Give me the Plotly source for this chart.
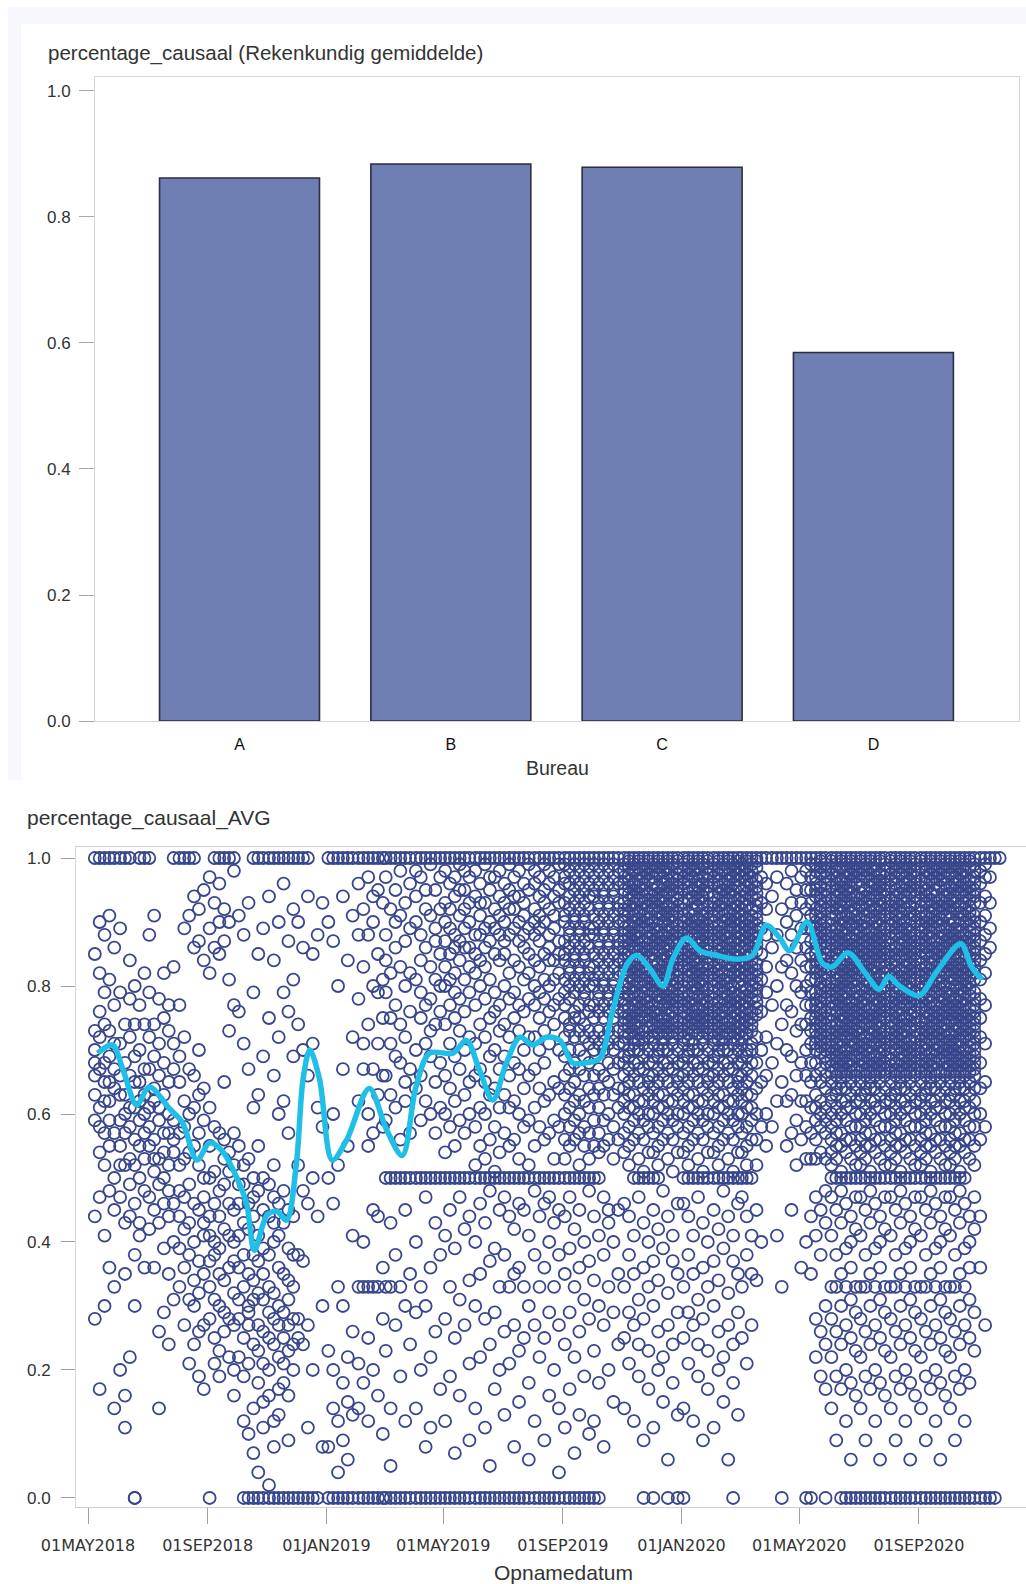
import plotly.graph_objects as go

# ---- Bar chart: mean percentage_causaal per bureau ----
bureaus = ["A", "B", "C", "D"]
bureau_means = [0.862, 0.884, 0.879, 0.585]

# ---- Scatter: percentage_causaal_AVG per record over Opnamedatum ----
# Each string holds the values (in %) of the records in one ~5-day column;
# six columns per month, on days 3, 8, 13, 18, 23 and 28.
COL_DAYS = [3, 8, 13, 18, 23, 28]

cols_2018 = [  # May .. Dec 2018
    # May
    "", "100 70 59 85 73 66 28 44 63 68", "100 76 54 82 61 47 17 90 67 58 72", "100 68 88 52 74 41 30 79 57 65 62",
    "100 62 91 73 48 55 36 81 69 65 59", "100 77 57 45 86 64 33 50 71 14 67",
    # Jun
    "100 59 71 47 89 66 52 20 79 55 63", "100 74 60 43 68 35 16 52 11 63 57", "100 84 53 78 66 44 61 22 49 72 58",
    "0 0 69 56 46 80 38 61 30 74 52 65", "100 65 50 77 43 59 70 41 55 62", "100 82 57 36 67 48 63 74 53 60",
    # Jul
    "100 61 79 47 88 55 67 42 72 58", "91 56 45 74 64 36 51 69 53 62", "66 78 49 26 59 71 43 14 53 61",
    "82 57 46 68 39 63 75 50 29 54", "73 44 60 35 52 77 24 48 65 57", "100 83 54 67 40 31 59 46 71 56",
    # Aug
    "100 65 44 77 52 33 69 39 57 48", "100 89 58 42 72 27 47 36 62 53", "100 91 54 38 67 43 21 60 49 31",
    "100 94 86 61 40 55 30 66 34 24 46", "92 52 37 63 87 26 45 57 32 19 70", "95 59 41 84 47 64 27 50 35 17 43",
    # Sep
    "0 97 50 37 82 61 28 44 89 55 33 41", "100 93 46 58 38 86 25 51 31 21 40", "100 85 48 30 96 57 23 44 35 90 19 39",
    "100 92 53 34 65 42 26 87 49 29 56", "100 81 41 90 28 54 36 73 46 22 51", "100 98 45 32 77 52 20 40 57 27 16 37",
    # Oct
    "41 91 28 49 36 76 46 22 55 31", "0 88 43 33 52 19 71 38 25 12 49", "0 35 93 27 46 30 67 53 21 42 10 29",
    "0 100 44 31 79 14 50 38 61 24 47 7 34", "0 100 37 85 23 48 32 63 18 55 41 27 4", "0 100 45 26 89 35 69 21 50 39 15 31 11",
    # Nov
    "0 100 33 94 20 44 75 29 16 38 49 25 2", "0 100 40 84 24 47 12 66 32 52 43 28 8", "0 100 36 22 90 30 60 46 17 41 72 27 13",
    "0 100 29 96 43 21 62 35 18 79 48 25", "0 100 34 87 23 45 57 31 76 39 16 27 9", "0 100 28 81 38 44 92 24 69 33 20",
    # Dec
    "0 100 28 90 38 74 52 25", "0 100 86 37 70 24 48", "0 100 94 27 66 46 11", "0 85 50 71 20", "0 88 61 44", "93 58 30 8",
]

cols_2019 = [  # Jan .. Dec 2019
    # Jan
    "0 100 90 50 23 8", "0 100 87 46 20 14 60", "0 100 80 52 33 12 4", "0 100 94 67 30 18 9", "0 100 84 55 22 15 6", "0 100 91 72 41 26 13",
    # Feb
    "0 100 96 78 62 33 21 14 88", "0 100 92 83 67 40 33 18 71", "0 100 97 88 74 60 33 25 12 55",
    "0 100 90 80 67 57 33 20 94 45", "0 100 95 85 71 63 44 33 16 79", "0 100 93 81 75 66 36 28 10 58",
    # Mar
    "0 100 97 88 79 66 59 50 33 23 84", "0 100 92 82 71 63 50 43 33 14 5 75", "0 100 95 90 86 69 61 50 38 27 77",
    "0 100 98 83 74 68 56 50 33 19 91", "0 100 93 87 80 72 62 50 45 30 12 65", "0 100 96 89 76 67 57 50 35 24 82",
    # Apr
    "0 100 94 90 81 70 64 50 40 29 14 98", "0 100 97 88 84 75 66 59 50 33 20 79", "0 100 92 86 77 71 62 50 47 30 8 95",
    "0 100 99 91 83 78 69 60 50 36 22 11 73", "0 100 95 89 81 74 65 57 50 43 26 87", "0 100 97 92 85 76 68 61 50 38 17 80",
    # May
    "0 100 98 93 87 80 74 66 60 54 50 41 28 12 90 83", "0 100 96 89 85 77 71 64 58 50 45 33 19 92 81",
    "0 100 97 94 88 82 75 69 62 55 50 39 25 7 86 79", "0 100 99 91 84 78 73 67 59 50 47 31 16 95 87",
    "0 100 95 92 86 81 76 70 63 57 50 42 27 89 98", "0 100 97 90 83 79 72 65 60 50 44 34 21 9 93 86",
    # Jun
    "0 100 98 94 88 82 77 71 66 58 52 50 40 30 14 85", "0 100 96 91 84 80 74 67 61 55 50 46 35 22 93 88",
    "0 100 99 93 89 83 78 72 65 60 53 50 43 28 11 86", "0 100 95 90 87 81 75 69 63 56 50 48 37 24 5 97",
    "0 100 97 92 85 79 76 70 64 58 51 50 39 29 17 89", "0 100 98 94 88 84 77 73 67 61 54 50 45 33 20 91",
    # Jul
    "0 100 96 93 90 85 80 74 69 63 57 50 47 38 26 13 87", "0 100 99 95 88 82 78 72 66 61 55 50 44 33 21 92",
    "0 100 97 92 89 84 79 75 68 62 56 50 42 35 27 8 94", "0 100 98 94 87 83 77 73 67 60 53 50 46 36 23 15 90",
    "0 100 96 93 91 86 81 76 70 64 58 50 45 33 25 88", "0 100 99 95 89 82 78 72 66 59 52 50 41 30 18 6 85",
    # Aug
    "0 100 98 96 92 88 84 80 77 72 67 61 55 50 48 38 27 12 90", "0 100 97 94 91 87 83 79 75 70 64 58 50 44 33 22 89",
    "0 100 99 95 93 90 85 81 78 73 68 62 56 50 46 36 25 9", "0 100 98 96 92 88 86 80 76 71 63 57 50 47 40 29 16 84",
    "0 100 97 94 91 89 84 81 77 74 65 59 53 50 43 33 20", "0 100 99 95 93 87 85 82 78 70 64 58 50 45 38 27 14 4",
    # Sep
    "0 100 99 97 96 93 91 90 87 85 84 81 79 77 75 72 69 66 63 60 56 53 50 44 35 24 11",
    "0 100 98 96 94 92 89 88 86 83 82 80 78 74 73 70 67 64 61 58 55 50 47 39 29 17",
    "0 100 99 97 95 93 91 90 87 85 84 81 79 76 75 72 68 65 62 59 56 50 42 33 22 7",
    "0 100 98 96 94 92 89 88 86 83 82 80 77 75 73 70 67 63 60 57 52 50 45 36 26 13",
    "0 100 99 97 95 93 91 90 87 85 84 81 79 78 74 72 69 66 62 58 55 50 40 31 19",
    "0 100 98 96 94 92 89 88 86 83 82 80 77 76 73 71 68 64 61 57 53 50 48 37 28 10",
    # Oct
    "0 100 99 97 95 94 91 89 88 85 83 81 80 77 75 72 70 66 63 59 55 50 44 34 23 12",
    "0 100 98 96 93 92 90 87 86 84 82 79 78 76 73 71 67 64 61 57 54 50 41 30 18",
    "100 99 97 95 94 91 89 88 85 83 81 80 77 75 72 70 66 63 59 55 47 38 27 8",
    "100 98 96 93 92 90 87 86 84 82 79 78 76 73 71 68 65 60 56 45 43 33 20",
    "100 99 97 95 94 91 89 88 85 83 81 80 77 75 72 70 67 63 58 53 40 29 15",
    "100 98 96 93 92 90 87 86 84 82 79 78 76 73 71 68 64 61 56 45 35 24",
    # Nov
    "100 99 98 97 96 95 93 92 91 90 89 88 87 86 85 84 83 82 80 79 78 77 76 75 74 73 72 71 69 68 66 64 62 60 57 54 46 33 25 14",
    "100 99.5 98.5 97.5 96.5 95.5 94.5 93.5 92.5 91.5 89.5 88.5 87.5 86.5 85.5 84.5 83.5 82.5 81.5 80.5 79.5 78.5 76.5 75.5 74.5 73.5 72.5 70 69 67 65 63 61 58 55 52 38 44 21 29",
    "100 99 98 96 95 94 93 92 91 90 89 88 87 86 84 83 82 81 80 79 78 77 76 75 74 73 72 71 70 68 66 63 61 59 56 50 41 27 35 12",
    "100 99.5 98.5 97.5 96.5 95.5 94.5 93.5 91.5 90.5 89.5 88.5 87.5 86.5 85.5 84.5 83.5 82.5 81.5 80.5 78.5 77.5 76.5 75.5 74.5 73.5 72.5 71.5 70 68 67 65 62 60 57 53 50 47 31 19 24",
    "0 100 99 98 97 96 95 94 93 92 91 90 89 87 86 85 84 83 82 81 80 79 78 77 76 75 73 72 71 69 67 64 62 59 56 51 50 36 43 28 9",
    "100 99.5 98.5 97.5 96.5 94.5 93.5 92.5 91.5 90.5 89.5 88.5 87.5 86.5 85.5 84.5 82.5 81.5 80.5 79.5 78.5 77.5 76.5 75.5 74.5 73.5 72 70 68 66 65 63 60 58 54 50 40 23 33 17",
    # Dec
    "0 100 99 98 97 96 95 94 93 92 90 89 88 87 86 85 84 83 82 81 80 79 77 76 75 74 73 72 71 69 68 66 64 62 60 57 54 50 45 30 37 11",
    "100 99.5 98.5 97.5 95.5 94.5 93.5 92.5 91.5 90.5 89.5 88.5 87.5 86.5 85.5 83.5 82.5 81.5 80.5 79.5 78.5 77.5 76.5 75.5 74.5 73.5 72.5 70 69 67 65 63 61 58 55 52 50 42 26 34 20",
    "100 99 98 97 96 95 94 93 92 91 90 88 87 86 85 84 83 82 81 80 79 78 77 75 74 73 72 71 70 68 66 63 61 59 56 39 48 22 15",
    "0 100 99.5 98.5 97.5 96.5 95.5 94.5 92.5 91.5 90.5 89.5 88.5 87.5 86.5 85.5 84.5 83.5 82.5 81.5 79.5 78.5 77.5 76.5 75.5 74.5 73.5 72.5 70 68 67 65 62 60 57 53 44 32 27 6",
    "100 99 97 96 95 94 93 92 91 90 89 88 87 85 84 83 82 81 80 79 78 77 76 75 74 73 72 71 69 67 64 62 59 56 51 37 41 24 18",
    "0 100 99.5 98.5 97.5 96.5 95.5 94.5 93.5 92.5 91.5 89.5 88.5 87.5 86.5 85.5 84.5 83.5 82.5 81.5 80.5 79.5 78.5 77.5 76.5 74.5 73.5 72.5 70 68 66 65 63 60 58 54 46 29 35 13",
]

cols_2020 = [  # Jan .. Nov 2020
    # Jan
    "0 100 99 98 97 96 95 93 92 91 90 89 88 87 86 85 84 83 81 80 79 78 77 76 75 74 73 72 71 69 68 66 64 62 60 57 54 50 46 33 25 14",
    "100 99.5 98.5 97.5 96.5 95.5 94.5 93.5 91.5 90.5 89.5 88.5 87.5 86.5 85.5 84.5 83.5 82.5 81.5 80.5 78.5 77.5 76.5 75.5 74.5 73.5 72.5 71.5 70 69 67 65 63 61 58 55 52 50 38 44 21 29",
    "100 99 98 97 95 94 93 92 91 90 89 88 86 85 84 83 82 81 80 79 78 77 76 75 74 73 71 70 68 66 63 61 59 56 50 41 27 35 12",
    "100 99.5 98.5 97.5 96.5 95.5 94.5 93.5 92.5 90.5 89.5 88.5 87.5 86.5 85.5 84.5 83.5 82.5 81.5 80.5 79.5 78.5 76.5 75.5 74.5 73.5 72.5 70 68 67 65 62 60 57 53 50 47 31 19 24",
    "100 99 97 96 95 94 93 92 91 90 89 88 87 86 85 83 82 81 80 79 78 77 76 75 74 73 72 71 69 67 64 62 59 56 51 50 36 43 28 9",
    "100 99.5 98.5 97.5 96.5 95.5 94.5 92.5 91.5 90.5 89.5 88.5 87.5 86.5 85.5 84.5 83.5 82.5 81.5 79.5 78.5 77.5 76.5 75.5 74.5 73.5 72.5 70 68 66 65 63 60 58 54 50 40 23 33 17",
    # Feb
    "100 99 98 97 96 94 93 92 91 90 89 88 87 85 84 83 82 81 80 79 78 77 76 75 74 73 72 71 69 68 66 64 62 60 57 54 50 45 30 37 11",
    "100 99.5 98.5 97.5 96.5 95.5 94.5 93.5 92.5 91.5 89.5 88.5 87.5 86.5 85.5 84.5 83.5 82.5 81.5 80.5 79.5 77.5 76.5 75.5 74.5 73.5 72.5 71.5 70 69 67 65 63 61 58 55 52 50 42 26 34 20",
    "100 99 98 96 95 94 93 92 91 90 89 88 87 86 85 84 82 81 80 79 78 77 76 75 74 73 72 71 70 68 66 63 61 59 56 50 39 48 22 15",
    "100 99.5 98.5 97.5 96.5 95.5 94.5 93.5 91.5 90.5 89.5 88.5 87.5 86.5 85.5 84.5 83.5 82.5 81.5 80.5 79.5 78.5 77.5 76.5 74.5 73.5 72.5 70 68 67 65 62 60 57 53 50 44 32 27 6",
    "0 100 99 98 97 96 95 94 93 92 91 90 89 87 86 85 84 83 82 80 79 78 77 76 75 74 73 72 71 69 67 64 62 59 56 51 50 37 41 24 18",
    "100 99.5 98.5 97.5 96.5 95.5 93.5 92.5 91.5 90.5 89.5 88.5 87.5 86.5 85.5 84.5 83.5 82.5 81.5 80.5 78.5 77.5 76.5 75.5 74.5 73.5 72.5 71.5 70 68 66 65 63 60 58 54 50 46 29 35 13",
    # Mar
    "100 99 98 97 95 94 93 92 91 90 89 88 87 86 84 83 82 81 80 79 78 77 76 75 74 73 72 71 69 68 66 64 62 60 57 54 50 47 33 25",
    "100 99.5 98.5 97.5 96.5 95.5 94.5 93.5 92.5 90.5 89.5 88.5 87.5 86.5 85.5 84.5 83.5 82.5 81.5 79.5 78.5 77.5 76.5 75.5 74.5 73.5 72.5 70 69 67 65 63 61 58 55 52 50 38 44 21",
    "100 99 98 97 96 95 94 92 91 90 89 88 87 86 85 84 83 82 81 80 79 78 76 75 74 73 71 70 68 66 63 61 59 56 50 41 27 35",
    "100 99.5 98.5 96.5 95.5 94.5 93.5 92.5 91.5 90.5 89.5 88.5 87.5 86.5 85.5 83.5 82.5 81.5 80.5 79.5 78.5 77.5 76.5 75.5 72 68 64 60 56 52 45 34",
    "100 97 93 89 85 81 76 70 65 58 40",
    "100 96 92 88 83 79 72 66 60 55",
    # Apr
    "100 94 86 77 68 58", "100 97 88 80 71 62 41", "0 100 92 83 74 65 33",
    "100 96 90 84 77 70 62 55", "100 98 93 88 82 76 69 63 57 45", "100 95 91 86 80 73 66 59 52",
    # May
    "100 97 93 89 84 79 74 68 62 56 36",
    "0 100 98 95 92 89 86 83 80 77 74 70 66 62 58 53 40",
    "0 100 99 97 95 93 91 89 87 85 83 81 79 77 75 73 71 68 65 61 57 53 44 35",
    "100 99 98 97 96 95 94 92 91 90 89 88 87 86 85 84 83 82 81 79 78 77 76 75 74 73 72 71 70 68 66 63 61 59 56 53 47 41 28 22",
    "100 99.5 98.5 97.5 95.5 94.5 93.5 92.5 91.5 90.5 89.5 88.5 87.5 86.5 84.5 83.5 82.5 81.5 80.5 79.5 78.5 77.5 76.5 75.5 74.5 73.5 72.5 71.5 70.5 69.5 67 65 62 60 58 54 45 38 26 19",
    "0 100 99 98 97 96 95 94 93 92 90 89 88 87 86 85 84 83 82 81 80 79 78 76 75 74 73 72 71 70 69 68 66 64 61 59 57 53 48 43 30 24 17",
    # Jun
    "100 99.5 98.5 97.5 96.5 95.5 93.5 92.5 91.5 90.5 89.5 88.5 87.5 86.5 85.5 84.5 83.5 82.5 80.5 79.5 78.5 77.5 76.5 75.5 74.5 73.5 72.5 71.5 70.5 69.5 68.5 67.5 66.5 65 63 62 60 58 56 54 52 50 47 41 33 28 22 14",
    "100 99 98 97 96 95 94 93 92 91 89 88 87 86 85 84 83 82 81 80 79 78 77 76 74 73 72 71 70 69 68 67 66 64 63 61 59 57 55 53 50 45 38 33 26 19 9",
    "0 100 99.5 98.5 96.5 95.5 94.5 93.5 92.5 91.5 90.5 89.5 88.5 87.5 86.5 85.5 83.5 82.5 81.5 80.5 79.5 78.5 77.5 76.5 75.5 74.5 73.5 72.5 71.5 70.5 69.5 68.5 67.5 66.5 65 64 62 60 57 55 51 50 48 43 35 30 24 17",
    "0 100 99 98 97 96 95 94 93 91 90 89 88 87 86 85 84 83 82 81 80 79 78 77 76 75 74 73 72 70 69 68 67 66 64 62 61 59 56 54 50 46 39 33 27 20 12",
    "0 100 99.5 98.5 97.5 96.5 95.5 94.5 93.5 92.5 91.5 90.5 89.5 87.5 86.5 85.5 84.5 83.5 82.5 81.5 80.5 79.5 77.5 76.5 75.5 74.5 73.5 72.5 71.5 70.5 69.5 68.5 67.5 66.5 65 63 61 58 56 53 50 44 40 36 31 25 18 6",
    "0 100 99 98 97 96 94 93 92 91 90 89 88 87 86 85 84 83 82 81 80 79 78 77 76 75 74 73 72 71 70 69 67 66 64 62 60 58 55 52 50 47 42 33 29 23 16",
    # Jul
    "0 100 99.5 98.5 97.5 96.5 95.5 94.5 93.5 92.5 90.5 89.5 88.5 87.5 86.5 85.5 84.5 83.5 82.5 81.5 79.5 78.5 77.5 76.5 75.5 74.5 73.5 72.5 71.5 70.5 69.5 68.5 67.5 66.5 65 63 62 60 58 56 54 52 50 47 41 33 28 22 14",
    "0 100 99 98 97 95 94 93 92 91 90 89 88 87 86 85 84 83 82 81 80 79 78 77 76 75 74 72 71 70 69 68 67 66 64 63 61 59 57 55 53 50 45 38 33 26 19 9",
    "0 100 99.5 98.5 97.5 96.5 95.5 94.5 93.5 92.5 91.5 90.5 88.5 87.5 86.5 85.5 84.5 83.5 82.5 81.5 80.5 79.5 78.5 76.5 75.5 74.5 73.5 72.5 71.5 70.5 69.5 68.5 67.5 66.5 65 64 62 60 57 55 51 50 48 43 35 30 24 17",
    "0 100 99 98 97 96 95 94 92 91 90 89 88 87 86 85 84 83 82 81 80 79 78 77 76 75 74 73 72 71 69 68 67 66 64 62 61 59 56 54 50 46 39 33 27 20 12",
    "0 100 99.5 97.5 96.5 95.5 94.5 93.5 92.5 91.5 90.5 89.5 88.5 87.5 86.5 85.5 84.5 83.5 81.5 80.5 79.5 78.5 77.5 76.5 75.5 74.5 73.5 72.5 71.5 70.5 69.5 68.5 67.5 66.5 65 63 61 58 56 53 50 44 40 36 31 25 18 6",
    "0 100 99 98 97 96 95 94 93 92 91 89 88 87 86 85 84 83 82 81 80 79 78 77 76 75 73 72 71 70 69 68 67 66 64 62 60 58 55 52 50 47 42 33 29 23 16",
    # Aug
    "0 100 99.5 98.5 97.5 96.5 95.5 93.5 92.5 91.5 90.5 89.5 88.5 87.5 86.5 85.5 84.5 83.5 82.5 81.5 80.5 78.5 77.5 76.5 75.5 74.5 73.5 72.5 71.5 70.5 69.5 68.5 67.5 66.5 65 63 62 60 58 56 54 52 50 47 41 33 28 22 14",
    "0 100 99 98 97 96 95 94 93 92 91 90 89 88 86 85 84 83 82 81 80 79 78 77 76 75 74 73 72 71 70 68 67 66 64 63 61 59 57 55 53 50 45 38 33 26 19 9",
    "0 100 99.5 98.5 97.5 95.5 94.5 93.5 92.5 91.5 90.5 89.5 88.5 87.5 86.5 85.5 84.5 82.5 81.5 80.5 79.5 78.5 77.5 76.5 75.5 74.5 73.5 72.5 71.5 70.5 69.5 68.5 67.5 66.5 65 64 62 60 57 55 51 50 48 43 35 30 24 17",
    "0 100 99 98 97 96 95 94 93 92 90 89 88 87 86 85 84 83 82 81 80 79 78 77 75 74 73 72 71 70 69 68 67 66 64 62 61 59 56 54 50 46 39 33 27 20 12",
    "0 100 99.5 98.5 97.5 96.5 95.5 94.5 92.5 91.5 90.5 89.5 88.5 87.5 86.5 85.5 84.5 83.5 82.5 81.5 80.5 79.5 78.5 77.5 76.5 75.5 74.5 73.5 71.5 70.5 69.5 68.5 67.5 66.5 65 63 61 58 56 53 50 44 40 36 31 25 18 6",
    "0 100 99 98 97 96 95 94 93 92 91 90 88 87 86 85 84 83 82 81 79 78 77 76 75 74 73 72 71 70 69 68 67 66 64 62 60 58 55 52 50 47 42 33 29 23 16",
    # Sep
    "0 100 99.5 98.5 96.5 95.5 94.5 93.5 92.5 91.5 90.5 89.5 88.5 87.5 86.5 85.5 84.5 83.5 82.5 81.5 80.5 79.5 78.5 77.5 76.5 74.5 73.5 72.5 71.5 70.5 69.5 68.5 67.5 66.5 65 63 62 60 58 56 54 52 50 47 41 33 28 22 14",
    "0 100 99 98 97 96 95 94 93 91 90 89 88 87 86 85 83 82 81 80 79 78 77 76 75 74 73 72 71 70 69 68 67 66 64 63 61 59 57 55 53 50 45 38 33 26 19 9",
    "0 100 99.5 98.5 97.5 96.5 94.5 93.5 92.5 91.5 90.5 89.5 88.5 87.5 86.5 85.5 84.5 83.5 82.5 81.5 80.5 79.5 78.5 77.5 76.5 75.5 74.5 73.5 72.5 71.5 69.5 68.5 67.5 66.5 65 64 62 60 57 55 51 50 48 43 35 30 24 17",
    "0 100 99 98 97 96 95 94 93 92 91 90 89 87 86 85 84 83 82 81 80 79 77 76 75 74 73 72 71 70 69 68 67 66 64 62 61 59 56 54 50 46 39 33 27 20 12",
    "0 100 99.5 98.5 97.5 96.5 95.5 93.5 92.5 91.5 90.5 89.5 88.5 87.5 86.5 85.5 84.5 83.5 82.5 81.5 80.5 79.5 78.5 77.5 76.5 75.5 74.5 73.5 72.5 71.5 70.5 69.5 68.5 66.5 65 63 61 58 56 53 50 44 40 36 31 25 18 6",
    "0 100 99 98 97 96 95 94 93 92 91 89 88 87 86 85 84 83 82 80 79 78 77 76 75 74 73 72 71 70 69 68 67 66 64 62 60 58 55 52 50 47 42 33 29 23 16",
    # Oct
    "0 100 99.5 98.5 97.5 95.5 94.5 93.5 92.5 91.5 90.5 89.5 88.5 87.5 86.5 85.5 84.5 83.5 82.5 81.5 80.5 79.5 78.5 77.5 76.5 75.5 74.5 72.5 71.5 70.5 69.5 68.5 67.5 66.5 65 63 62 60 58 56 54 52 50 47 41 33 28 22 14",
    "0 100 99 98 97 96 95 94 93 92 90 89 88 87 86 85 84 83 82 81 80 78 77 76 75 74 73 72 71 70 69 68 67 66 64 63 61 59 57 55 53 50 45 38 33 26 19 9",
    "0 100 99.5 98.5 97.5 96.5 95.5 94.5 92.5 91.5 90.5 89.5 88.5 87.5 86.5 84.5 83.5 82.5 81.5 80.5 79.5 78.5 77.5 76.5 75.5 74.5 73.5 72.5 71.5 70.5 69.5 68.5 67.5 66.5 65 64 62 60 57 55 51 50 48 43 35 30 24 17",
    "0 100 99 98 97 96 95 94 93 92 91 90 88 87 86 85 84 83 82 81 80 79 78 77 76 75 74 73 72 70 69 68 67 66 64 62 61 59 56 54 50 46 39 33 27 20 12",
    "0 100 99.5 98.5 96.5 95.5 94.5 93.5 92.5 91.5 90.5 89.5 88.5 87.5 86.5 85.5 84.5 83.5 82.5 81.5 80.5 79.5 78.5 76.5 75.5 74.5 73.5 72.5 71.5 70.5 69.5 68.5 67.5 66.5 65 63 61 58 56 53 44 40 36 31 25 18",
    "0 100 99 98 97 96 95 94 93 91 90 89 88 87 86 85 84 83 82 81 79 78 77 76 75 74 73 72 71 70 69 68 67 66 64 62 60 58 55 52 47 42 29 23",
    # Nov
    "0 100 98 96 93 90 87 84 81 78 75 72 68 64 60 56 44 36", "0 100 99 97 94 91 88 85 82 77 71 65 58 27",
    "0 100 97 93 89 86", "0 100", "100", "",
]

# Smoothed running average drawn through the cloud
avg_dates = [
    "2018-05-11", "2018-05-26", "2018-06-06", "2018-06-20", "2018-07-03", "2018-07-24", "2018-08-06", "2018-08-21",
    "2018-09-03", "2018-09-16", "2018-10-01", "2018-10-11", "2018-10-19", "2018-11-01", "2018-11-11", "2018-11-21",
    "2018-12-01", "2018-12-08", "2018-12-15", "2018-12-25",
    "2019-01-07", "2019-01-22", "2019-02-14", "2019-03-04", "2019-03-20", "2019-04-03", "2019-04-17", "2019-05-11",
    "2019-05-25", "2019-06-07", "2019-06-21", "2019-07-05", "2019-07-19", "2019-08-01", "2019-08-15", "2019-08-29",
    "2019-09-11", "2019-09-25", "2019-10-09", "2019-10-22", "2019-11-06", "2019-11-16", "2019-11-29", "2019-12-13",
    "2019-12-23",
    "2020-01-06", "2020-01-20", "2020-02-06", "2020-02-27", "2020-03-14", "2020-03-28", "2020-04-11", "2020-04-21",
    "2020-05-09", "2020-05-25", "2020-06-04", "2020-06-20", "2020-07-08", "2020-07-22", "2020-08-01", "2020-08-12",
    "2020-09-01", "2020-09-19", "2020-10-14", "2020-10-25", "2020-11-05",
]
avg_values = [
    0.695, 0.708, 0.669, 0.614, 0.642, 0.608, 0.587, 0.528,
    0.555, 0.542, 0.50, 0.46, 0.387, 0.442, 0.448, 0.434,
    0.52, 0.654, 0.70, 0.654,
    0.528, 0.56, 0.64, 0.575, 0.535, 0.642, 0.695, 0.695,
    0.715, 0.67, 0.622, 0.68, 0.72, 0.708, 0.72, 0.715,
    0.68, 0.68, 0.687, 0.76, 0.834, 0.848, 0.828, 0.80,
    0.842,
    0.875, 0.855, 0.848, 0.842, 0.848, 0.895, 0.875, 0.855,
    0.90, 0.835, 0.83, 0.852, 0.82, 0.795, 0.815, 0.80,
    0.785, 0.822, 0.866, 0.83, 0.81,
]

date_tickvals = ["2018-05-01", "2018-09-01", "2019-01-01", "2019-05-01",
                 "2019-09-01", "2020-01-01", "2020-05-01", "2020-09-01"]
date_ticktext = ["01MAY2018", "01SEP2018", "01JAN2019", "01MAY2019",
                 "01SEP2019", "01JAN2020", "01MAY2020", "01SEP2020"]


def expand(cols, year, first_month):
    xs, ys = [], []
    for i, s in enumerate(cols):
        month = first_month + i // 6
        day = COL_DAYS[i % 6]
        d = f"{year}-{month:02d}-{day:02d}"
        for v in s.split():
            xs.append(d)
            ys.append(float(v) / 100)
    return xs, ys


pt_x, pt_y = [], []
for cols, yr, m0 in [(cols_2018, 2018, 5), (cols_2019, 2019, 1), (cols_2020, 2020, 1)]:
    xs, ys = expand(cols, yr, m0)
    pt_x += xs
    pt_y += ys

W, H = 1026, 1584
FONT = "Liberation Sans, Arial, sans-serif"
TXT = "#333333"


def px_x(p):
    return p / W


def px_y(p):
    return 1 - p / H


fig = go.Figure()

fig.add_trace(go.Bar(
    x=bureaus, y=bureau_means, width=0.757,
    marker=dict(color="#6f7eb3", line=dict(color="#2b2f3f", width=1.6)),
    xaxis="x", yaxis="y", showlegend=False,
))

ring = "rgb(56,70,140)"
fig.add_trace(go.Scatter(
    x=pt_x, y=pt_y, mode="markers",
    marker=dict(symbol="circle-open", size=12, color=ring, line=dict(width=1.8, color=ring)),
    xaxis="x2", yaxis="y2", showlegend=False,
))

fig.add_trace(go.Scatter(
    x=avg_dates, y=avg_values, mode="lines",
    line=dict(color="#1fbfe8", width=5.5, shape="spline", smoothing=0.9),
    xaxis="x2", yaxis="y2", showlegend=False,
))

frame = "#d6d6d6"
fig.update_layout(
    width=W, height=H,
    margin=dict(l=0, r=0, t=0, b=0, autoexpand=False),
    paper_bgcolor="white", plot_bgcolor="white",
    font=dict(family=FONT, color=TXT),
    xaxis=dict(
        domain=[px_x(95), px_x(1019)], anchor="y", automargin=False,
        range=[-0.684, 3.689], type="category",
        showline=True, mirror=True, linecolor=frame, linewidth=1,
        ticks="", showgrid=False, zeroline=False,
        tickfont=dict(size=16, color="#111111"), ticklabelstandoff=9,
    ),
    yaxis=dict(
        domain=[px_y(721), px_y(77)], anchor="x", automargin=False,
        range=[0, 1.0222], tickvals=[0, 0.2, 0.4, 0.6, 0.8, 1.0],
        tickformat=".1f",
        showline=True, mirror=True, linecolor=frame, linewidth=1,
        ticks="outside", ticklen=15, tickcolor="#a8a8a8", tickwidth=1,
        showgrid=False, zeroline=False,
        tickfont=dict(size=17, color=TXT), ticklabelstandoff=5,
    ),
    xaxis2=dict(
        domain=[px_x(76), 1.0], anchor="y2", type="date", automargin=False,
        range=["2018-04-18 16:00", "2020-12-20"],
        tickvals=date_tickvals, ticktext=date_ticktext,
        showline=True, mirror=True, linecolor="#cfcfcf", linewidth=1,
        ticks="outside", ticklen=16, tickcolor="#a0a0a0", tickwidth=1,
        showgrid=False, zeroline=False,
        tickfont=dict(size=16, color=TXT, family="DejaVu Sans, sans-serif"),
        ticklabelstandoff=8,
    ),
    yaxis2=dict(
        domain=[px_y(1507), px_y(847)], anchor="x2", automargin=False,
        range=[-0.0141, 1.0172], tickvals=[0, 0.2, 0.4, 0.6, 0.8, 1.0],
        tickformat=".1f",
        showline=True, mirror=True, linecolor="#d8d8d8", linewidth=1,
        ticks="outside", ticklen=14, tickcolor="#a0a0a0", tickwidth=1,
        showgrid=False, zeroline=False,
        tickfont=dict(size=17, color=TXT), ticklabelstandoff=7,
    ),
    shapes=[
        dict(type="rect", xref="paper", yref="paper", layer="below",
             x0=px_x(8), x1=1.0, y0=px_y(780), y1=px_y(7),
             fillcolor="#f6f8fd", line=dict(width=0)),
        dict(type="rect", xref="paper", yref="paper", layer="below",
             x0=px_x(21), x1=1.0, y0=px_y(780), y1=px_y(24),
             fillcolor="white", line=dict(width=0)),
    ],
    annotations=[
        dict(text="percentage_causaal (Rekenkundig gemiddelde)", xref="paper", yref="paper",
             x=px_x(46), y=px_y(53), xanchor="left", yanchor="middle", showarrow=False,
             font=dict(size=20.5, color=TXT)),
        dict(text="Bureau", xref="paper", yref="paper",
             x=px_x(557), y=px_y(768), xanchor="center", yanchor="middle", showarrow=False,
             font=dict(size=19.5, color=TXT)),
        dict(text="percentage_causaal_AVG", xref="paper", yref="paper",
             x=px_x(25), y=px_y(818), xanchor="left", yanchor="middle", showarrow=False,
             font=dict(size=21, color=TXT)),
        dict(text="Opnamedatum", xref="paper", yref="paper",
             x=px_x(563), y=px_y(1572), xanchor="center", yanchor="middle", showarrow=False,
             font=dict(size=21, color=TXT)),
        dict(text="01JAN2021", xref="x2", yref="paper",
             x="2021-01-01", y=px_y(1538), xanchor="center", yanchor="middle", showarrow=False,
             font=dict(size=16, color=TXT, family="DejaVu Sans, sans-serif")),
    ],
)

fig.write_html("out.html", config={"displayModeBar": False})
